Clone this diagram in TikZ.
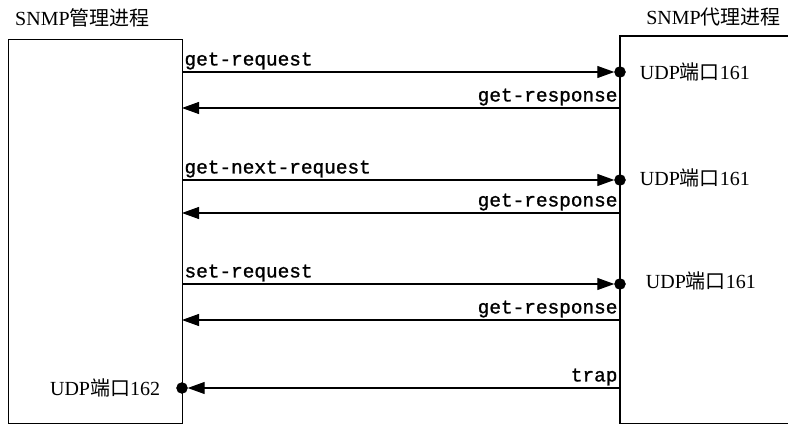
\documentclass[tikz,border=0pt]{standalone}
\usepackage{fontspec}
\setmainfont{Liberation Serif}
\setmonofont{Liberation Mono}
\newfontfamily\cjk{Noto Sans CJK SC}
\newfontfamily\pdufont[FakeBold=1.2]{Liberation Mono}
\usetikzlibrary{arrows.meta, positioning}
\tikzstyle{proc} = [draw, rectangle, line width=1.2pt, inner sep=0pt, anchor=north west]
\tikzstyle{port} = [draw, circle, fill=black, inner sep=0pt, minimum size=11pt]
\tikzstyle{title} = [font=\fontsize{20}{24}\selectfont, inner sep=0pt]
\tikzstyle{udp} = [font=\fontsize{20}{24}\selectfont, inner sep=0pt]
\tikzstyle{pdu} = [font=\pdufont\fontsize{19.4}{22}\selectfont, inner sep=2pt]
\tikzstyle{msg} = [line width=1.1pt, -{Triangle[length=17pt,width=12pt]}]

\begin{document}
\begin{tikzpicture}[x=1pt, y=-1pt]
    \useasboundingbox (0,0) rectangle (788,425);
    % Processes
    \node (mgr) [proc, minimum width=174pt, minimum height=384pt] at (8,39) {};
    \node (agt) [proc, draw=none, minimum width=400pt, minimum height=386pt] at (620,36) {};
    \draw [line width=1.2pt] (agt.north east) -- (agt.north west) -- (agt.south west) -- (agt.south east);
    \node (mgrtitle) [title, anchor=west] at (15,18) {SNMP{\cjk 管理进程}};
    \node (agttitle) [title, anchor=east] at (781,17) {SNMP{\cjk 代理进程}};

    % Ports
    \node (p1) [port] at (620,72) {};
    \node (p2) [port] at (620,180) {};
    \node (p3) [port] at (620,284) {};
    \node (p4) [port] at (182,388) {};
    \node (u1) [udp, right=14pt of p1] {UDP{\cjk 端口}161};
    \node (u2) [udp, right=14pt of p2, yshift=2pt] {UDP{\cjk 端口}161};
    \node (u3) [udp, right=20pt of p3, yshift=3pt] {UDP{\cjk 端口}161};
    \node (u4) [udp, left=16pt of p4] {UDP{\cjk 端口}162};

    % Line ends
    \coordinate (l1) at (182,72);
    \coordinate (r1) at (620,108);
    \coordinate (l2) at (182,108);
    \coordinate (l3) at (182,180);
    \coordinate (r3) at (620,213);
    \coordinate (l4) at (182,213);
    \coordinate (l5) at (182,284);
    \coordinate (r5) at (620,320);
    \coordinate (l6) at (182,320);
    \coordinate (r7) at (620,388);

    % Arrows
    \draw [msg] (l1) -- node[pdu, pos=0, above right] {get-request} (p1);
    \draw [msg] (r1) -- node[pdu, pos=0, above left] {get-response} (l2);
    \draw [msg] (l3) -- node[pdu, pos=0, above right] {get-next-request} (p2);
    \draw [msg] (r3) -- node[pdu, pos=0, above left] {get-response} (l4);
    \draw [msg] (l5) -- node[pdu, pos=0, above right] {set-request} (p3);
    \draw [msg] (r5) -- node[pdu, pos=0, above left] {get-response} (l6);
    \draw [msg] (r7) -- node[pdu, pos=0, above left] {trap} (p4);
\end{tikzpicture}
\end{document}
